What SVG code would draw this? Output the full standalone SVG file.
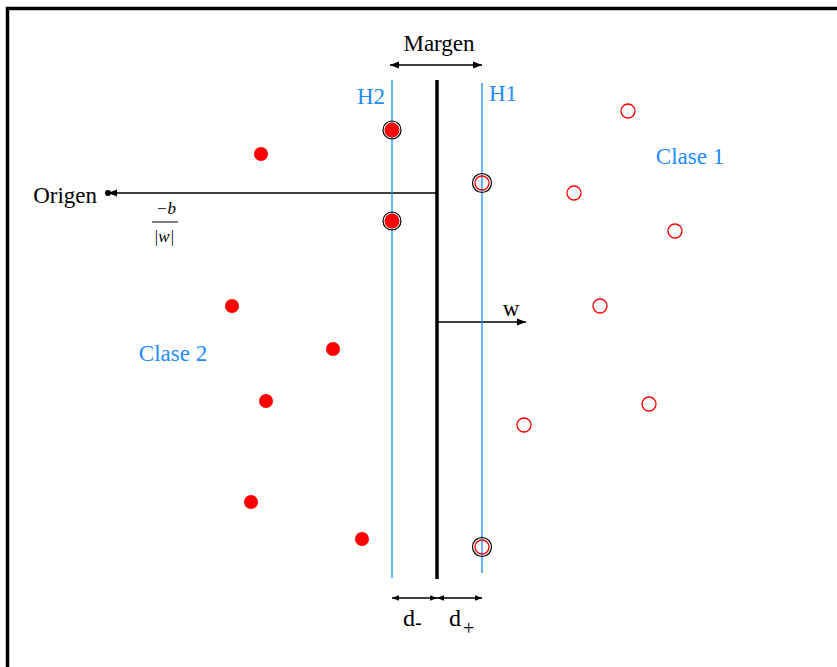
<svg xmlns="http://www.w3.org/2000/svg" width="837" height="667" viewBox="0 0 837 667">
<defs>
<style>
.t{font-family:"Liberation Serif","Times New Roman",serif;fill:#000}
.b{font-family:"Liberation Serif","Times New Roman",serif;fill:#1e8cff;font-size:23px}
.h{stroke:#1e8cff;stroke-width:1.3}
.ln{stroke:#000;stroke-width:1.3;fill:none}
.f{fill:#ff0000}
.o{fill:none;stroke:#ff0000;stroke-width:1.3}
.ring{fill:none;stroke:#000;stroke-width:1.2}
</style>
<marker id="ah" viewBox="0 0 10 10" refX="10" refY="5" markerWidth="10" markerHeight="9" markerUnits="userSpaceOnUse" orient="auto-start-reverse"><path d="M0,1 L10,5 L0,9 Z" fill="#000"/></marker>
<marker id="ahs" viewBox="0 0 10 10" refX="10" refY="5" markerWidth="7" markerHeight="8" markerUnits="userSpaceOnUse" orient="auto-start-reverse"><path d="M0,1 L10,5 L0,9 Z" fill="#000"/></marker>
</defs>
<rect x="0" y="0" width="837" height="667" fill="#fff"/>
<path d="M7.5,667 V8.5 H837" fill="none" stroke="#000" stroke-width="3.5"/>
<g id="connectors">
<line class="ln" x1="390" y1="65" x2="482" y2="65" marker-start="url(#ah)" marker-end="url(#ah)"/>
<line class="ln" x1="437" y1="193" x2="108" y2="193" marker-end="url(#ah)"/>
<circle cx="108" cy="193" r="3" fill="#000"/>
<line class="ln" x1="437" y1="322" x2="526" y2="322" marker-end="url(#ah)"/>
<line class="ln" x1="392" y1="598" x2="437" y2="598" marker-start="url(#ahs)" marker-end="url(#ahs)"/>
<line class="ln" x1="437" y1="598" x2="482" y2="598" marker-start="url(#ahs)" marker-end="url(#ahs)"/>
</g>
<g id="hyperplanes">
<line class="h" x1="392" y1="80" x2="392" y2="578"/>
<line class="h" x1="482" y1="83" x2="482" y2="573"/>
<line x1="437" y1="80" x2="437" y2="579" stroke="#000" stroke-width="3.5"/>
</g>
<g id="labels">
<text class="t" x="439" y="51" font-size="23" text-anchor="middle">Margen</text>
<text class="b" x="371" y="104" text-anchor="middle">H2</text>
<text class="b" x="503" y="101" text-anchor="middle">H1</text>
<text class="b" x="690" y="164" text-anchor="middle">Clase 1</text>
<text class="b" x="173" y="361" text-anchor="middle">Clase 2</text>
<text class="t" x="97" y="203" font-size="23" text-anchor="end">Origen</text>
<text class="t" x="511" y="316" font-size="23" text-anchor="middle">w</text>
<text class="t" x="166" y="214" font-size="17" text-anchor="middle" font-style="italic">−b</text>
<line x1="152" y1="222" x2="178" y2="222" stroke="#000" stroke-width="1"/>
<text class="t" x="164" y="242" font-size="17" text-anchor="middle" font-style="italic">|w|</text>
<text class="t" x="403" y="626" font-size="24">d</text>
<text class="t" x="415" y="629" font-size="20">-</text>
<text class="t" x="449" y="626" font-size="24">d</text>
<text class="t" x="463" y="635" font-size="20" fill="#000">+</text>
</g>
<g id="class2">
<circle class="f" cx="261" cy="154" r="7"/>
<circle class="f" cx="232" cy="306" r="7"/>
<circle class="f" cx="333" cy="349" r="7"/>
<circle class="f" cx="266" cy="401" r="7"/>
<circle class="f" cx="251" cy="502" r="7"/>
<circle class="f" cx="362" cy="539" r="7"/>
</g>
<g id="sv2">
<circle class="f" cx="392" cy="130" r="7.5"/><circle class="ring" cx="392" cy="130" r="9"/>
<circle class="f" cx="392" cy="221" r="7.5"/><circle class="ring" cx="392" cy="221" r="9"/>
</g>
<g id="class1">
<circle class="o" cx="628" cy="111" r="7"/>
<circle class="o" cx="574" cy="193" r="7"/>
<circle class="o" cx="675" cy="231" r="7"/>
<circle class="o" cx="600" cy="306" r="7"/>
<circle class="o" cx="649" cy="404" r="7"/>
<circle class="o" cx="524" cy="425" r="7"/>
</g>
<g id="sv1">
<circle class="o" cx="482" cy="183" r="7"/><circle class="ring" cx="482" cy="183" r="9.5"/>
<circle class="o" cx="482" cy="547" r="7"/><circle class="ring" cx="482" cy="547" r="9.5"/>
</g>
</svg>
